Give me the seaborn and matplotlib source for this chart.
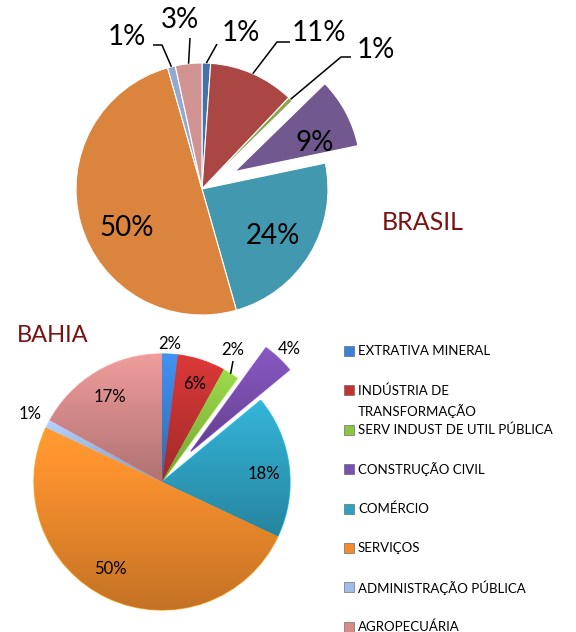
import numpy as np
import matplotlib
matplotlib.use("Agg")
import matplotlib.pyplot as plt
import matplotlib.colors as mcolors
import seaborn as sns

# ---------------------------------------------
# DATA
# ---------------------------------------------
categories = [
    "EXTRATIVA MINERAL",
    "INDÚSTRIA DE\nTRANSFORMAÇÃO",
    "SERV INDUST DE UTIL PÚBLICA",
    "CONSTRUÇÃO CIVIL",
    "COMÉRCIO",
    "SERVIÇOS",
    "ADMINISTRAÇÃO PÚBLICA",
    "AGROPECUÁRIA",
]
brasil = [1.1, 11.0, 0.6, 9.0, 23.9, 50.0, 1.0, 3.4]
bahia = [2.0, 6.0, 2.0, 4.0, 18.0, 50.0, 1.0, 17.0]

brasil_colors = ["#4572A7", "#AA4643", "#89A54E", "#71588F",
                 "#4198AF", "#DB843D", "#93A9CF", "#D19392"]
bahia_colors = ["#3B82D6", "#C43333", "#8CC443", "#7A4FAE",
                "#2FA2C2", "#EF8B2C", "#A3BCE6", "#D68B8B"]

W, H = 576, 632
title_color = "#7A1212"

sns.set_theme(style="white")
plt.rcParams["font.family"] = ["Lato", "DejaVu Sans"]

fig = plt.figure(figsize=(W / 100, H / 100), dpi=100)
ax = fig.add_axes([0, 0, 1, 1])


def Y(y):
    # layout positions are written in picture pixels (y down)
    return H - y


def shade(wedge, color, top=1.12, bottom=0.82):
    # vertical light-to-dark gradient clipped to the wedge (Excel 3D look)
    x0, y0, x1, y1 = wedge.get_path().get_extents().extents
    rgb = np.array(mcolors.to_rgb(color))
    t = np.linspace(0, 1, 64)[:, None]
    fac = top + (bottom - top) * t
    col = np.clip(rgb[None, :] * fac, 0, 1)
    img = np.repeat(col[:, None, :], 2, axis=1)
    im = ax.imshow(img, extent=(x0, x1, y0, y1), origin="upper",
                   aspect="auto", interpolation="bilinear", zorder=wedge.get_zorder())
    im.set_clip_path(wedge)


def draw_pie(values, colors, center, radius, explode_idx, explode_px,
             pctdist, fs, label_pos, edge_lw=0.8, gradient=False):
    explode = [explode_px if i == explode_idx else 0 for i in range(len(values))]
    wedges, _, autotexts = ax.pie(
        values, colors=sns.color_palette(colors), center=(center[0], Y(center[1])),
        radius=radius, explode=explode, startangle=90, counterclock=False,
        autopct=lambda p: f"{p:.0f}%", pctdistance=pctdist,
        wedgeprops=dict(edgecolor="white", linewidth=edge_lw),
        textprops=dict(fontsize=fs, color="black", zorder=5))
    if gradient:
        for w, c in zip(wedges, colors):
            shade(w, c)
            w.set_edgecolor(mcolors.to_hex(np.clip(np.array(mcolors.to_rgb(c)) * 1.25, 0, 1)))
    # place labels, with leader lines from the wedge edge where needed
    for i, (tx, ty, knee, stub) in label_pos.items():
        autotexts[i].set_position((tx, Y(ty)))
        if knee is None:
            continue
        w = wedges[i]
        th = np.deg2rad((w.theta1 + w.theta2) / 2)
        ex = w.center[0] + w.r * np.cos(th)
        ey = w.center[1] + w.r * np.sin(th)
        xs = [ex, knee[0]]
        ys = [ey, Y(knee[1])]
        if stub is not None:
            xs.append(stub)
            ys.append(Y(knee[1]))
        ax.plot(xs, ys, color="black", lw=1.1, solid_capstyle="butt", zorder=4)
    return wedges


# ---------------------------------------------
# BRASIL
# ---------------------------------------------
brasil_labels = {
    0: (241, 33, (217, 44), None),
    1: (319, 33, (277, 42), 290),
    2: (376, 50, (341, 57), 351),
    3: (315, 143, None, None),
    4: (273, 236, None, None),
    5: (127, 228, None, None),
    6: (127, 37, (162, 45), 153),
    7: (180, 20, (190, 38), None),
}
draw_pie(brasil, brasil_colors, (202, 189), 126, 3, 37, 0.68, 20, brasil_labels)
ax.text(423, Y(222), "BRASIL", fontsize=18, color=title_color,
        ha="center", va="center")

# ---------------------------------------------
# BAHIA
# ---------------------------------------------
bahia_labels = {
    0: (170, 344, None, None),
    1: (195, 384, None, None),
    2: (233, 350, (233, 361), None),
    3: (289, 349, None, None),
    4: (264, 474, None, None),
    5: (110, 569, None, None),
    6: (30, 414, None, None),
    7: (110, 397, None, None),
}
draw_pie(bahia, bahia_colors, (162, 482), 128, 3, 42, 0.8, 12, bahia_labels,
         edge_lw=1.0, gradient=True)
ax.text(53, Y(335), "BAHIA", fontsize=17, color=title_color,
        ha="center", va="center")

# ---------------------------------------------
# LEGEND (drawn by hand so the two-line entry keeps its box on line one)
# ---------------------------------------------
leg_y0, leg_dy = 351, 39.4
for i, (name, col) in enumerate(zip(categories, bahia_colors)):
    yy = leg_y0 + i * leg_dy
    ax.scatter([349], [Y(yy)], marker="s", s=42, color=col,
               edgecolor="#555555", linewidths=0.4, zorder=3)
    for j, line in enumerate(name.split("\n")):
        ax.text(358, Y(yy + j * 21), line, fontsize=9.5, color="black",
                ha="left", va="center")

ax.set_xlim(0, W)
ax.set_ylim(0, H)
ax.set_aspect("equal")
ax.axis("off")

plt.savefig("out.png", dpi=100)
